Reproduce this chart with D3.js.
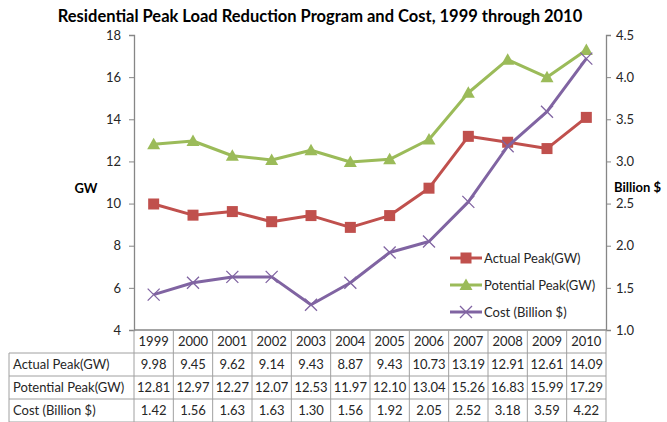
<!DOCTYPE html>
<html><head><meta charset="utf-8">
<script src="https://cdn.jsdelivr.net/npm/d3@7"></script>
<style>body{margin:0;background:#fff}svg{display:block}text{font-family:Lato,"Open Sans",sans-serif}</style>
</head><body><svg id="c" width="667" height="422"></svg>
<script>
const years = ["1999","2000","2001","2002","2003","2004","2005","2006","2007","2008","2009","2010"];
const actualPeak = [9.98,9.45,9.62,9.14,9.43,8.87,9.43,10.73,13.19,12.91,12.61,14.09];
const potentialPeak = [12.81,12.97,12.27,12.07,12.53,11.97,12.10,13.04,15.26,16.83,15.99,17.29];
const cost = [1.42,1.56,1.63,1.63,1.30,1.56,1.92,2.05,2.52,3.18,3.59,4.22];
const actualLabels = ["9.98","9.45","9.62","9.14","9.43","8.87","9.43","10.73","13.19","12.91","12.61","14.09"];
const potentialLabels = ["12.81","12.97","12.27","12.07","12.53","11.97","12.10","13.04","15.26","16.83","15.99","17.29"];
const costLabels = ["1.42","1.56","1.63","1.63","1.30","1.56","1.92","2.05","2.52","3.18","3.59","4.22"];
const leftTicks = [4,6,8,10,12,14,16,18];
const rightTicks = [1.0,1.5,2.0,2.5,3.0,3.5,4.0,4.5];

const svg = d3.select("#c");
const L = 134, R = 606, T = 35, B = 330;
const x = d3.scaleBand().domain(years).range([L, R]);
const yL = d3.scaleLinear().domain([4,18]).range([B, T]);
const yR = d3.scaleLinear().domain([1,4.5]).range([B, T]);
const axisCol = "#868686", txtCol = "#262626";

svg.append("text").attr("x", 320).attr("y", 22).attr("text-anchor","middle")
  .attr("font-size", 16.5).attr("font-weight","bold").attr("fill","#000")
  .text("Residential Peak Load Reduction Program and Cost, 1999 through 2010");

// axes
const gl = svg.append("g").attr("transform",`translate(${L},0)`)
  .call(d3.axisLeft(yL).tickValues(leftTicks).tickSize(5).tickPadding(8).tickFormat(d3.format("d")));
const gr = svg.append("g").attr("transform",`translate(${R},0)`)
  .call(d3.axisRight(yR).tickValues(rightTicks).tickSize(5).tickPadding(5).tickFormat(d3.format(".1f")));
[gl,gr].forEach(g=>{
  g.select(".domain").attr("stroke",axisCol).attr("stroke-width",1.3);
  g.selectAll(".tick line").attr("stroke",axisCol);
  g.selectAll(".tick text").attr("font-size",13).attr("fill",txtCol).attr("font-family","Lato,sans-serif");
});
svg.append("text").attr("x",86).attr("y",193).attr("text-anchor","middle").attr("font-size",13)
  .attr("font-weight","bold").text("GW");
svg.append("text").attr("x",614).attr("y",192).attr("font-size",13)
  .attr("font-weight","bold").text("Billion $");

// table
const rowH = 23;
const tg = svg.append("g");
const lineCol = "#a0a0a0";
tg.append("line").attr("x1",L).attr("x2",R).attr("y1",B).attr("y2",B).attr("stroke",axisCol).attr("stroke-width",1.3);
for (let r=1;r<=4;r++){
  tg.append("line").attr("x1",9).attr("x2",R).attr("y1",B+r*rowH).attr("y2",B+r*rowH).attr("stroke",lineCol);
}
tg.append("line").attr("x1",9).attr("x2",9).attr("y1",B+rowH).attr("y2",B+4*rowH).attr("stroke",lineCol);
years.forEach((yr,i)=>{
  tg.append("line").attr("x1",x(yr)).attr("x2",x(yr)).attr("y1",B).attr("y2",B+4*rowH).attr("stroke",lineCol);
});
tg.append("line").attr("x1",R).attr("x2",R).attr("y1",B).attr("y2",B+4*rowH).attr("stroke",lineCol);
const rows = [["",years],["Actual Peak(GW)",actualLabels],["Potential Peak(GW)",potentialLabels],["Cost (Billion $)",costLabels]];
rows.forEach((row,r)=>{
  const yy = B + r*rowH + 16;
  if(row[0]) tg.append("text").attr("x",13).attr("y",yy).attr("font-size",13).attr("fill",txtCol).text(row[0]);
  row[1].forEach((v,i)=>{
    tg.append("text").attr("x",x(years[i])+x.bandwidth()/2).attr("y",yy).attr("text-anchor","middle")
      .attr("font-size",13).attr("fill",txtCol).text(v);
  });
});

// series
const cx = (d,i)=>x(years[i])+x.bandwidth()/2;
const red="#C0504D", green="#9BBB59", purple="#8064A2";
const series = [
  {vals:potentialPeak, y:yL, col:green, m:"tri"},
  {vals:actualPeak, y:yL, col:red, m:"sq"},
  {vals:cost, y:yR, col:purple, m:"x"}
];
function marker(g, m, col, px, py){
  if(m==="sq") g.append("rect").attr("x",px-5.5).attr("y",py-5.5).attr("width",11).attr("height",11).attr("fill",col);
  else if(m==="tri") g.append("path").attr("d",`M${px},${py-6.5}L${px+6.5},${py+5}L${px-6.5},${py+5}Z`).attr("fill",col);
  else g.append("path").attr("d",`M${px-6},${py-6}L${px+6},${py+6}M${px-6},${py+6}L${px+6},${py-6}`).attr("stroke",col).attr("stroke-width",1.3);
}
series.forEach(s=>{
  const line = d3.line().x((d,i)=>cx(d,i)).y(d=>s.y(d));
  svg.append("path").datum(s.vals).attr("d",line).attr("fill","none").attr("stroke",s.col).attr("stroke-width",3).attr("stroke-linejoin","round");
  const g = svg.append("g");
  s.vals.forEach((v,i)=>marker(g,s.m,s.col,cx(v,i),s.y(v)));
});

// legend
const leg = [["Actual Peak(GW)",red,"sq"],["Potential Peak(GW)",green,"tri"],["Cost (Billion $)",purple,"x"]];
leg.forEach((l,i)=>{
  const ly = 258 + i*27;
  svg.append("line").attr("x1",450).attr("x2",482).attr("y1",ly).attr("y2",ly).attr("stroke",l[1]).attr("stroke-width",3);
  marker(svg,l[2],l[1],466,ly);
  svg.append("text").attr("x",484).attr("y",ly+5).attr("font-size",13).attr("fill",txtCol).text(l[0]);
});
</script></body></html>
